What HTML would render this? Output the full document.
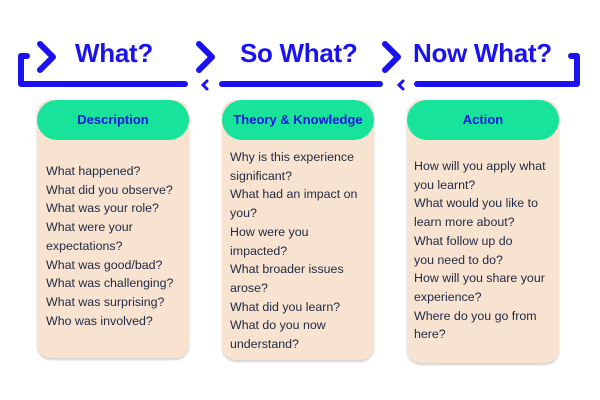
<!DOCTYPE html>
<html><head><style>
body{margin:0;width:600px;height:400px;background:#fff;position:relative;overflow:hidden;font-family:"Liberation Sans",sans-serif}
.card{position:absolute;top:100px;width:152px;background:#f8e3d0;border-radius:14px;box-shadow:0 2px 2px rgba(0,0,0,0.18)}
.pill{position:absolute;left:0;top:0;width:100%;height:40px;background:#17e39a;border-radius:20px;color:#1a12e6;font-weight:bold;font-size:13px;text-align:center;line-height:40px}
.txt{position:absolute;left:8px;color:#222b45;font-size:12.4px;line-height:18.7px;white-space:nowrap}
.h{position:absolute;top:38px;color:#1a12f0;font-weight:bold;font-size:26px;letter-spacing:-0.3px}
</style></head><body>
<svg width="600" height="400" style="position:absolute;left:0;top:0">
<g stroke="#1a12f0" stroke-width="6" fill="none" stroke-linecap="round" stroke-linejoin="round">
<path d="M27 56 H21 V84 H185"/>
<path d="M222 84 H380"/>
<path d="M417 84 H577 V56 H571"/>
<path d="M40 44 L53 57 L40 70"/>
<path d="M199 44 L212 57 L199 70"/>
<path d="M385 44 L398 57 L385 70"/>
</g>
<g stroke="#1a12f0" stroke-width="3" fill="none" stroke-linecap="round">
<path d="M207 81 L203 85 L207 89"/>
<path d="M403 81 L399 85 L403 89"/>
</g>
</svg>
<div class="h" style="left:75px">What?</div>
<div class="h" style="left:240px">So What?</div>
<div class="h" style="left:413px">Now What?</div>

<div class="card" style="left:37px;height:258px"><div class="pill">Description</div>
<div class="txt" style="top:62px;left:9px">What happened?<br>What did you observe?<br>What was your role?<br>What were your<br>expectations?<br>What was good/bad?<br>What was challenging?<br>What was surprising?<br>Who was involved?</div></div>

<div class="card" style="left:222px;height:260px"><div class="pill">Theory &amp; Knowledge</div>
<div class="txt" style="top:48px">Why is this experience<br>significant?<br>What had an impact on<br>you?<br>How were you<br>impacted?<br>What broader issues<br>arose?<br>What did you learn?<br>What do you now<br>understand?</div></div>

<div class="card" style="left:407px;height:263px"><div class="pill">Action</div>
<div class="txt" style="top:57px;left:7px">How will you apply what<br>you learnt?<br>What would you like to<br>learn more about?<br>What follow up do<br>you need to do?<br>How will you share your<br>experience?<br>Where do you go from<br>here?</div></div>
</body></html>
